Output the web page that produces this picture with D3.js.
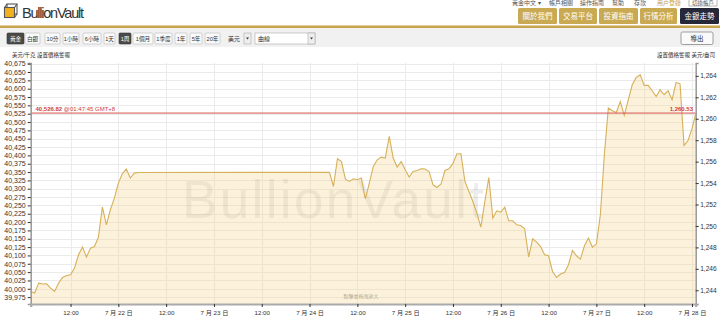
<!DOCTYPE html>
<html>
<head>
<meta charset="utf-8">
<script src="https://cdn.jsdelivr.net/npm/d3@7"></script>
<style>
  body { margin: 0; background: #fff; }
  svg { display: block; font-family: "Liberation Sans", Arial, "Noto Sans CJK TC", sans-serif; }
</style>
</head>
<body>
<div class="content"></div>
<script>
// hours after 2017-07-21 00:00 (GMT+8), price in USD/oz
var hours = [2, 3, 4, 5, 6, 7, 8, 9, 10, 11, 12, 13, 14, 15, 16, 17, 18, 19, 20, 21, 22, 23, 24, 25, 26, 27, 28, 29,
  77, 78, 79, 80, 81, 82, 83, 84, 85, 86, 87, 88, 89, 90, 91, 92, 93, 94, 95, 96, 97, 98, 99, 100,
  101, 102, 103, 104, 105, 106, 107, 108, 109, 110, 111, 112, 113, 114, 115, 116, 117, 118, 119, 120,
  121, 122, 123, 124, 125, 126, 127, 128, 129, 130, 131, 132, 133, 134, 135, 136, 137, 138, 139, 140,
  141, 142, 143, 144, 145, 146, 147, 148, 149, 150, 151, 152, 153, 154, 155, 156, 157, 158, 159, 160,
  161, 162, 163, 164, 165, 166, 167, 168, 168.9];
var prices = [1243.89, 1243.74, 1244.67, 1244.58, 1244.60, 1244.20, 1243.89, 1244.67, 1245.19, 1245.38, 1245.44,
  1246.07, 1247.31, 1248.03, 1247.10, 1247.93, 1248.08, 1248.96, 1251.76, 1250.11, 1251.51, 1252.60, 1254.00,
  1254.87, 1255.31, 1254.47, 1254.93, 1254.99,
  1255.00, 1253.68, 1256.27, 1256.01, 1254.37, 1254.15, 1254.40, 1254.31, 1254.47, 1252.53, 1254.00, 1255.55,
  1256.17, 1256.42, 1256.33, 1258.35, 1256.33, 1255.49, 1256.01, 1255.24, 1254.56, 1255.08, 1255.17, 1255.33,
  1255.31, 1255.08, 1253.84, 1253.59, 1253.91, 1255.17, 1255.33, 1255.83, 1256.73, 1256.73, 1254.15, 1253.22,
  1252.28, 1251.20, 1249.89, 1252.28, 1254.52, 1250.73, 1251.41, 1251.29, 1251.76, 1250.48, 1250.48, 1250.11,
  1250.04, 1249.74, 1247.10, 1248.80, 1248.49, 1248.08, 1247.31, 1247.22, 1245.75, 1245.19, 1245.51, 1245.66,
  1246.38, 1247.71, 1247.22, 1246.91, 1248.15, 1248.87, 1248.03, 1248.31, 1251.04, 1256.64, 1261.00, 1260.74,
  1260.59, 1261.61, 1260.31, 1261.77, 1263.17, 1263.85, 1264.10, 1263.11, 1263.11, 1262.61, 1262.08, 1262.70,
  1262.24, 1262.61, 1261.77, 1263.38, 1263.26, 1257.51, 1257.97, 1259.07, 1260.40];

var currentKg = 40526.82;
var currentOz = 1260.53;
var currentTime = "@01:47:45 GMT+8";
var ozPerKg = 32.1507;

var leftTicks = [39975, 40000, 40025, 40050, 40075, 40100, 40125, 40150, 40175, 40200, 40225, 40250,
  40275, 40300, 40325, 40350, 40375, 40400, 40425, 40450, 40475, 40500, 40525, 40550, 40575, 40600,
  40625, 40650, 40675];
var rightTicks = [1244, 1246, 1248, 1250, 1252, 1254, 1256, 1258, 1260, 1262, 1264];
var xTickHours = [12, 24, 36, 48, 60, 72, 84, 96, 108, 120, 132, 144, 156, 168];
var xTickLabels = ["12:00", "7 月 22 日", "12:00", "7 月 23 日", "12:00", "7 月 24 日", "12:00",
  "7 月 25 日", "12:00", "7 月 26 日", "12:00", "7 月 27 日", "12:00", "7 月 28 日"];

var base = new Date(2017, 6, 21, 0, 0);
function toDate(h) { return new Date(base.getTime() + h * 3600000); }

var W = 720, H = 321;
var pLeft = 30.7, pRight = 695.7, pTop = 63, pBottom = 304;

var svg = d3.select(".content").append("svg")
  .attr("width", W)
  .attr("height", H);

// ---------- header ----------
var nav = ["黃金中文 ▾", "帳戶相關", "操作指南", "幫助", "存款"];
var navX = [512, 549, 580, 612, 634];
svg.selectAll("text.nav")
  .data(nav)
  .enter().append("text")
    .attr("class", "nav")
    .attr("x", function(d, i) { return navX[i]; })
    .attr("y", 5)
    .attr("font-size", 6)
    .attr("fill", "#555")
    .text(function(d) { return d; });
svg.append("text").attr("x", 657).attr("y", 5).attr("font-size", 6).attr("fill", "#c8a040").text("用户登錄");
svg.append("rect").attr("x", 689).attr("y", -3).attr("width", 28).attr("height", 9)
  .attr("fill", "#fff").attr("stroke", "#999").attr("stroke-width", 0.7);
svg.append("text").attr("x", 703).attr("y", 4.5).attr("text-anchor", "middle")
  .attr("font-size", 5.5).attr("fill", "#555").text("切換帳戶");

// logo
var logo = svg.append("g");
logo.append("rect").attr("x", 7).attr("y", 4).attr("width", 10).attr("height", 10)
  .attr("fill", "none").attr("stroke", "#555").attr("stroke-width", 1.1);
logo.append("rect").attr("x", 4.5).attr("y", 7.5).attr("width", 10).attr("height", 10)
  .attr("fill", "#f2b01e").attr("stroke", "#555").attr("stroke-width", 1.1);
logo.append("path").attr("d", "M4.5,7.5 L7,4 M14.5,7.5 L17,4 M14.5,17.5 L17,14")
  .attr("stroke", "#555").attr("stroke-width", 1.1);
svg.append("text")
  .attr("x", 22).attr("y", 18)
  .attr("font-size", 14.5)
  .attr("fill", "#333")
  .attr("textLength", 62)
  .text("BullionVault");

var menu = ["關於我們", "交易平台", "投資指南", "行情分析", "金銀走勢"];
var menuX = [518, 559, 599, 640, 680];
var menuW = [39, 38, 39, 37, 39];
svg.selectAll("rect.menu")
  .data(menu)
  .enter().append("rect")
    .attr("class", "menu")
    .attr("x", function(d, i) { return menuX[i]; })
    .attr("y", 8)
    .attr("width", function(d, i) { return menuW[i]; })
    .attr("height", 16)
    .attr("rx", 1.5)
    .attr("fill", function(d, i) { return i == 4 ? "#26283a" : "#c9aa52"; });
svg.selectAll("text.menu")
  .data(menu)
  .enter().append("text")
    .attr("class", "menu")
    .attr("x", function(d, i) { return menuX[i] + menuW[i] / 2; })
    .attr("y", 19)
    .attr("text-anchor", "middle")
    .attr("font-size", 7.5)
    .attr("fill", "#fff")
    .text(function(d) { return d; });

svg.append("rect").attr("x", 0).attr("y", 25.5).attr("width", W).attr("height", 2.5).attr("fill", "#c8a44c");
svg.append("rect").attr("x", 0).attr("y", 28).attr("width", W).attr("height", 19).attr("fill", "#f1f1f1");

// toolbar
var tools = [["黃金", 7, 17, 1], ["白銀", 25, 15, 0], ["10分", 45, 15, 0], ["1小時", 63, 16, 0], ["6小時", 83, 18, 0],
  ["1天", 104, 11, 0], ["1周", 119, 12, 1], ["1個月", 133, 20, 0], ["1季度", 155, 17, 0], ["1年", 175, 12, 0],
  ["5年", 190, 12, 0], ["20年", 205, 15, 0]];
var tg = svg.selectAll("g.tool")
  .data(tools)
  .enter().append("g")
    .attr("class", "tool");
tg.append("rect")
  .attr("x", function(d) { return d[1]; })
  .attr("y", 33)
  .attr("width", function(d) { return d[2]; })
  .attr("height", 11)
  .attr("rx", 1)
  .attr("fill", function(d) { return d[3] ? "#4a4a4a" : "#fafafa"; })
  .attr("stroke", function(d) { return d[3] ? "#333" : "#bbb"; })
  .attr("stroke-width", 0.6);
tg.append("text")
  .attr("x", function(d) { return d[1] + d[2] / 2; })
  .attr("y", 41.2)
  .attr("text-anchor", "middle")
  .attr("font-size", 5.6)
  .attr("fill", function(d) { return d[3] ? "#fff" : "#333"; })
  .text(function(d) { return d[0]; });

svg.append("text").attr("x", 228).attr("y", 41.2).attr("font-size", 6).attr("fill", "#333").text("美元");
svg.append("rect").attr("x", 244).attr("y", 33).attr("width", 7).attr("height", 11)
  .attr("fill", "#eee").attr("stroke", "#aaa").attr("stroke-width", 0.6);
svg.append("path").attr("d", "M246,37.5 L249,37.5 L247.5,39.5 Z").attr("fill", "#333");
svg.append("rect").attr("x", 255).attr("y", 33).attr("width", 60).attr("height", 11)
  .attr("fill", "#fff").attr("stroke", "#aaa").attr("stroke-width", 0.6);
svg.append("text").attr("x", 258).attr("y", 41.2).attr("font-size", 6).attr("fill", "#333").text("曲線");
svg.append("rect").attr("x", 308).attr("y", 33).attr("width", 7).attr("height", 11)
  .attr("fill", "#eee").attr("stroke", "#aaa").attr("stroke-width", 0.6);
svg.append("path").attr("d", "M310,37.5 L313,37.5 L311.5,39.5 Z").attr("fill", "#333");

svg.append("rect").attr("x", 681).attr("y", 32).attr("width", 32).attr("height", 12.5)
  .attr("rx", 1.5).attr("fill", "#fafafa").attr("stroke", "#888").attr("stroke-width", 0.8);
svg.append("text").attr("x", 697).attr("y", 41).attr("text-anchor", "middle")
  .attr("font-size", 6.5).attr("fill", "#222").text("導出");

svg.append("text").attr("x", 12).attr("y", 57).attr("font-size", 5.5).attr("fill", "#222").text("美元/千克  設置價格警報");
svg.append("text").attr("x", 715).attr("y", 57).attr("text-anchor", "end")
  .attr("font-size", 5.5).attr("fill", "#222").text("設置價格警報  美元/盎司");

// ---------- chart ----------
var x = d3.scaleTime()
  .domain([toDate(2), toDate(168.93)])
  .range([pLeft, pRight]);
var yOz = d3.scaleLinear()
  .domain([1242.72, 1265.2])
  .range([pBottom, pTop]);
var yKg = d3.scaleLinear()
  .domain([1242.72 * ozPerKg, 1265.2 * ozPerKg])
  .range([pBottom, pTop]);

var points = hours.map(function(h, i) { return { t: toDate(h), v: prices[i] }; });

var grid = svg.append("g");
grid.selectAll("line.h")
  .data(leftTicks)
  .enter().append("line")
    .attr("class", "h")
    .attr("x1", pLeft).attr("x2", pRight)
    .attr("y1", function(d) { return Math.round(yKg(d)) + 0.5; })
    .attr("y2", function(d) { return Math.round(yKg(d)) + 0.5; })
    .attr("stroke", "#ebebeb");
grid.selectAll("line.v")
  .data(xTickHours)
  .enter().append("line")
    .attr("class", "v")
    .attr("x1", function(d) { return Math.round(x(toDate(d))) + 0.5; })
    .attr("x2", function(d) { return Math.round(x(toDate(d))) + 0.5; })
    .attr("y1", pTop).attr("y2", pBottom)
    .attr("stroke", "#ebebeb");

svg.append("text")
  .attr("x", 333).attr("y", 218)
  .attr("text-anchor", "middle")
  .attr("font-size", 53)
  .attr("textLength", 302)
  .attr("fill", "#000")
  .attr("fill-opacity", 0.075)
  .text("BullionVault");

var area = d3.area()
  .x(function(d) { return x(d.t); })
  .y0(pBottom)
  .y1(function(d) { return yOz(d.v); });
var line = d3.line()
  .x(function(d) { return x(d.t); })
  .y(function(d) { return yOz(d.v); });

svg.append("path")
  .datum(points)
  .attr("d", area)
  .attr("fill", "#f6d48a")
  .attr("fill-opacity", 0.3);
svg.append("path")
  .datum(points)
  .attr("d", line)
  .attr("fill", "none")
  .attr("stroke", "#d6b05a")
  .attr("stroke-width", 1.1);

svg.append("text").attr("x", 361).attr("y", 298).attr("text-anchor", "middle")
  .attr("font-size", 5).attr("fill", "#b0a890").text("點擊並拖曳放大");

// current price line
var cy = yOz(currentOz);
svg.append("line")
  .attr("x1", pLeft).attr("x2", pRight)
  .attr("y1", cy).attr("y2", cy)
  .attr("stroke", "#d9534f")
  .attr("stroke-width", 1);
var lbl = svg.append("text").attr("x", 35.5).attr("y", cy - 2).attr("font-size", 6).attr("fill", "#d04040");
lbl.append("tspan").attr("font-weight", "bold").text(d3.format(",.2f")(currentKg));
lbl.append("tspan").text(" " + currentTime);
svg.append("text").attr("x", 693).attr("y", cy - 2).attr("text-anchor", "end")
  .attr("font-size", 6).attr("font-weight", "bold").attr("fill", "#d04040")
  .text(d3.format(",.2f")(currentOz));

// axes
var leftAxis = d3.axisLeft(yKg).tickValues(leftTicks).tickFormat(d3.format(",")).tickSize(3).tickPadding(2);
var rightAxis = d3.axisRight(yOz).tickValues(rightTicks).tickFormat(d3.format(",")).tickSize(3).tickPadding(1.5);
var bottomAxis = d3.axisBottom(x)
  .tickValues(xTickHours.map(toDate))
  .tickFormat(function(d, i) { return xTickLabels[i]; })
  .tickSize(3).tickPadding(4);

var gl = svg.append("g").attr("transform", "translate(" + pLeft + ",0)").call(leftAxis);
var gr = svg.append("g").attr("transform", "translate(" + pRight + ",0)").call(rightAxis);
var gb = svg.append("g").attr("transform", "translate(0," + pBottom + ")").call(bottomAxis);

[gl, gr, gb].forEach(function(g) {
  g.select(".domain").attr("stroke", "#999").attr("stroke-width", 1.5);
  g.selectAll(".tick line").attr("stroke", "#333");
  g.selectAll(".tick text")
    .attr("font-family", "'Liberation Sans', Arial, 'Noto Sans CJK TC', sans-serif")
    .attr("fill", "#333");
});
gl.selectAll(".tick text").attr("font-size", 7);
gr.selectAll(".tick text").attr("font-size", 6.6);
gb.selectAll(".tick text").attr("font-size", 6.2);
gb.select(".domain").attr("stroke-width", 2.2).attr("stroke", "#aaa");
</script>
</body>
</html>
